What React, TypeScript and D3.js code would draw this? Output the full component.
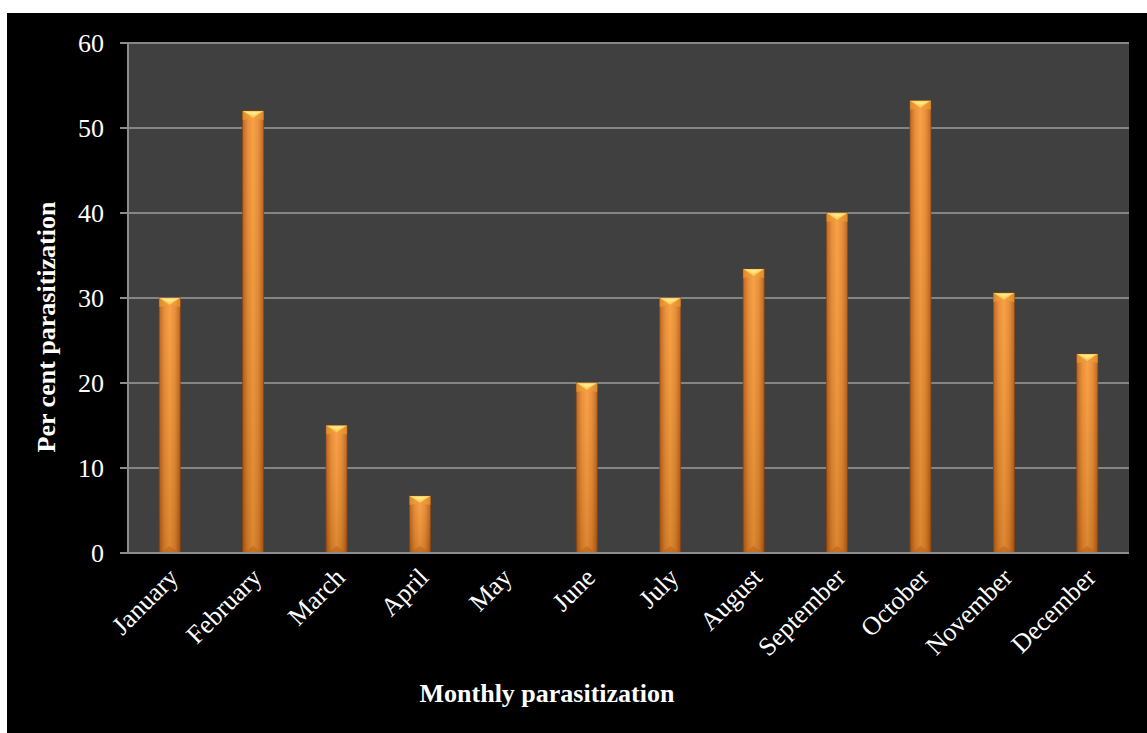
import React from 'react';
import * as d3 from 'd3';

const months = ['January', 'February', 'March', 'April', 'May', 'June', 'July',
  'August', 'September', 'October', 'November', 'December'];
const parasitization = [30, 52, 15, 6.7, 0, 20, 30, 33.4, 40, 53.2, 30.6, 23.4];
const yTicks = [0, 10, 20, 30, 40, 50, 60];

const W = 1147;
const H = 733;
const plot = { left: 128, right: 1129, top: 43, bottom: 553 };
const font = '"Liberation Serif", "Times New Roman", serif';

export default function App() {
  const x = d3.scaleBand<string>()
    .domain(months)
    .range([plot.left, plot.right])
    .paddingInner(0)
    .paddingOuter(0);
  const y = d3.scaleLinear().domain([0, 60]).range([plot.bottom, plot.top]);
  const barW = 21;
  const bevel = 7;

  return (
    <div style={{ position: 'absolute', left: 0, top: 0 }}>
      <svg width={W} height={H} style={{ display: 'block' }}>
        <defs>
          <linearGradient id="barFill" x1="0" x2="1" y1="0" y2="0">
            <stop offset="0" stopColor="#b85c14" />
            <stop offset="0.25" stopColor="#e8862a" />
            <stop offset="0.5" stopColor="#f79a38" />
            <stop offset="0.75" stopColor="#e8862a" />
            <stop offset="1" stopColor="#b85c14" />
          </linearGradient>
          <linearGradient id="barShade" x1="0" x2="0" y1="0" y2="1">
            <stop offset="0" stopColor="#ffffff" stopOpacity="0.08" />
            <stop offset="1" stopColor="#000000" stopOpacity="0.12" />
          </linearGradient>
        </defs>
        <rect x={0} y={0} width={W} height={H} fill="#ffffff" />
        <rect x={7} y={13} width={W - 7} height={H - 13} fill="#000000" />
        <rect x={plot.left} y={plot.top} width={plot.right - plot.left}
          height={plot.bottom - plot.top} fill="#404040" />

        {/* gridlines */}
        {yTicks.filter((t) => t > 0).map((t) => (
          <line key={t} x1={plot.left} x2={plot.right} y1={y(t)} y2={y(t)}
            stroke="#858585" strokeWidth={2} />
        ))}

        {/* bars */}
        {months.map((m, i) => {
          const v = parasitization[i];
          if (v <= 0) return null;
          const cx = x(m)! + x.bandwidth() / 2;
          const x0 = cx - barW / 2;
          const x1 = cx + barW / 2;
          const top = y(v);
          const bot = y(0);
          const b = Math.min(bevel, (bot - top) / 2);
          return (
            <g key={m}>
              <rect x={x0} y={top} width={barW} height={bot - top} fill="url(#barFill)"
                stroke="#8a4510" strokeWidth={0.8} />
              <rect x={x0} y={top} width={barW} height={bot - top} fill="url(#barShade)" />
              <polygon points={`${x0},${top} ${x1},${top} ${cx},${top + b}`} fill="#ffd060" />
              <polygon points={`${x0 + 3},${top + 1} ${x1 - 3},${top + 1} ${cx},${top + b * 0.6}`}
                fill="#ffe88a" />
              <polygon points={`${x0},${top} ${cx},${top + b} ${x0},${top + b + 2}`} fill="#f0a030" opacity={0.6} />
              <polygon points={`${x1},${top} ${cx},${top + b} ${x1},${top + b + 2}`} fill="#f0a030" opacity={0.6} />
              <polygon points={`${x0 + 1},${bot} ${x1 - 1},${bot} ${cx},${bot - b}`} fill="#c06418" opacity={0.6} />
            </g>
          );
        })}

        {/* axes */}
        <line x1={plot.left} x2={plot.left} y1={plot.top} y2={plot.bottom} stroke="#8c8c8c" strokeWidth={2} />
        <line x1={plot.left - 8} x2={plot.right} y1={plot.bottom} y2={plot.bottom} stroke="#8c8c8c" strokeWidth={2} />
        {yTicks.map((t) => (
          <g key={t}>
            <line x1={plot.left - 8} x2={plot.left} y1={y(t)} y2={y(t)} stroke="#8c8c8c" strokeWidth={2} />
            <text x={104} y={y(t)} dy="0.35em" textAnchor="end" fill="#ffffff"
              fontFamily={font} fontSize={26}>{t}</text>
          </g>
        ))}
        {months.map((m) => {
          const cx = x(m)! + x.bandwidth() / 2;
          return (
            <text key={m} transform={`translate(${cx + 10},${plot.bottom + 26}) rotate(-45)`}
              textAnchor="end" fill="#ffffff" fontFamily={font} fontSize={26}>{m}</text>
          );
        })}

        <text x={547} y={702} textAnchor="middle" fill="#ffffff" fontFamily={font}
          fontSize={26} fontWeight="bold">Monthly parasitization</text>
        <text transform={`translate(55,${(plot.top + plot.bottom) / 2 + 29}) rotate(-90)`}
          textAnchor="middle" fill="#ffffff" fontFamily={font}
          fontSize={26} fontWeight="bold">Per cent parasitization</text>
      </svg>
    </div>
  );
}
